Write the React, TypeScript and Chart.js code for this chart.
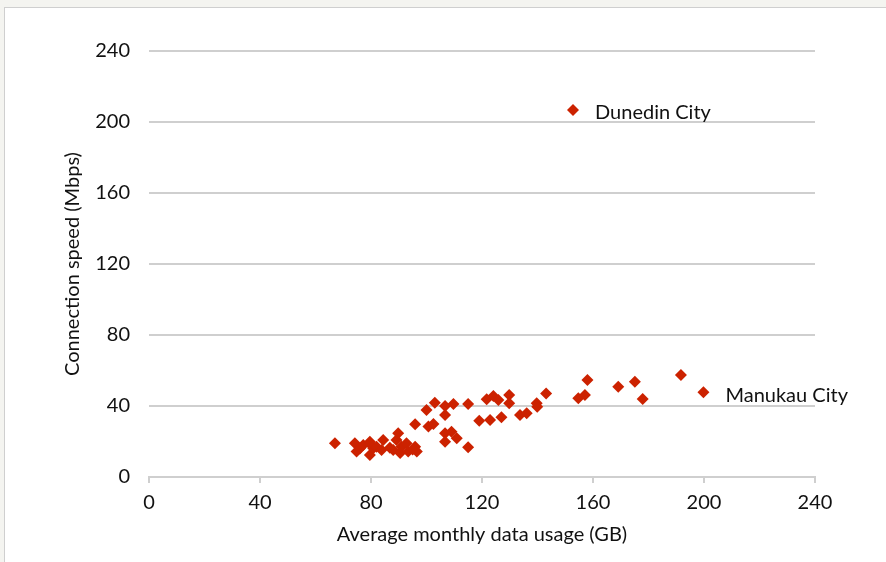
import React, { useEffect, useRef } from "react";
import { Chart, registerables } from "chart.js";

Chart.register(...registerables);

const usageGB = [
  67, 74.2, 74.8, 77.2, 76, 79.6, 79.6, 80.8, 80, 82, 84.4, 83.8, 86.8, 88, 89.2, 89.8, 90.5, 91, 92.8, 93.4, 95.9, 96.5, 95,
  95.9, 100, 103, 106.7, 109.7, 115, 106.7, 100.7, 102.5, 106.7, 109, 110.9, 106.7, 115, 119, 122.9, 127, 121.7, 124.1, 125.9,
  129.8, 129.8, 133.7, 136.1, 139.7, 139.9, 143.1, 154.7, 157.1, 158, 169.1, 175.1, 177.9, 191.7, 199.8, 152.8,
];
const speedMbps = [
  19, 19, 14.3, 18, 16, 19.9, 12.4, 16.2, 18, 17, 20.8, 15.2, 16.5, 15.2, 20.8, 24.6, 13.5, 17.1, 19, 14.3, 17.1, 14.3, 15.5,
  29.7, 37.7, 41.9, 40, 41.1, 41.1, 34.9, 28.4, 29.9, 24.6, 25.5, 21.8, 19.9, 16.7, 31.7, 32.1, 33.6, 43.8, 45.6, 43.4,
  46.2, 41.5, 34.9, 35.9, 41.5, 39.6, 47.1, 44.3, 46.2, 54.6, 50.9, 53.7, 43.9, 57.5, 47.7, 206.8,
];
const labeledCities = ["Dunedin City", "Manukau City"];
const labeledIndex = [58, 57];
const axisTicks = [0, 40, 80, 120, 160, 200, 240];

const FONT = "Lato";
const FS = 20;
const TEXT = "#111111";
const RED = "#cc2200";
const GRID = "#cfcfcf";

const pointLabelPlugin = {
  id: "pointLabels",
  afterDatasetsDraw(chart: any) {
    const meta = chart.getDatasetMeta(0);
    const ctx = chart.ctx;
    ctx.save();
    ctx.font = `${FS}px ${FONT}`;
    ctx.fillStyle = TEXT;
    ctx.textAlign = "left";
    ctx.textBaseline = "middle";
    labeledIndex.forEach((idx, k) => {
      const el = meta.data[idx];
      if (!el) return;
      ctx.fillText(labeledCities[k], el.x + 22, el.y + 3);
    });
    ctx.restore();
  },
};

export default function App() {
  const canvasRef = useRef<HTMLCanvasElement | null>(null);

  useEffect(() => {
    if (!canvasRef.current) return;
    const points = usageGB.map((x, i) => ({ x, y: speedMbps[i] }));
    const chart = new Chart(canvasRef.current, {
      type: "scatter",
      data: {
        datasets: [
          {
            data: points,
            backgroundColor: RED,
            borderColor: RED,
            pointStyle: "rectRot",
            pointRadius: 6,
            borderWidth: 0,
          },
        ],
      },
      options: {
        animation: false,
        responsive: false,
        maintainAspectRatio: false,
        layout: { padding: { left: 60, right: 71, top: 51, bottom: 12 } },
        plugins: { legend: { display: false }, tooltip: { enabled: false } },
        scales: {
          x: {
            type: "linear",
            min: 0,
            max: 240,
            afterBuildTicks: (s: any) => {
              s.ticks = axisTicks.map((v) => ({ value: v }));
            },
            afterFit: (s: any) => {
              s.height = 73;
            },
            grid: { display: true, drawOnChartArea: false, drawTicks: true, tickLength: 6, color: GRID, lineWidth: 2 },
            border: { display: true, color: GRID, width: 2 },
            ticks: { color: TEXT, font: { family: FONT, size: FS }, padding: 8 },
            title: {
              display: true,
              text: "Average monthly data usage (GB)",
              color: TEXT,
              font: { family: FONT, size: FS },
              padding: { top: 0, bottom: 3 },
            },
          },
          y: {
            type: "linear",
            min: 0,
            max: 240,
            afterBuildTicks: (s: any) => {
              s.ticks = axisTicks.map((v) => ({ value: v }));
            },
            afterFit: (s: any) => {
              s.width = 89;
            },
            grid: { display: true, drawTicks: false, color: GRID, lineWidth: 2 },
            border: { display: false },
            ticks: { color: TEXT, font: { family: FONT, size: FS }, padding: 19 },
            title: {
              display: true,
              text: "Connection speed (Mbps)",
              color: TEXT,
              font: { family: FONT, size: FS },
              padding: { top: 1, bottom: 0 },
            },
          },
        },
      },
      plugins: [pointLabelPlugin],
    });
    return () => chart.destroy();
  }, []);

  return (
    <div style={{ position: "fixed", left: 0, top: 0, width: 886, height: 562, background: "#f4f4f0", overflow: "hidden" }}>
      <div
        style={{
          position: "absolute",
          left: 4,
          top: 7,
          width: 940,
          height: 620,
          background: "#ffffff",
          border: "1px solid #cfcfcf",
        }}
      />
      <canvas ref={canvasRef} width={886} height={562} style={{ position: "absolute", left: 0, top: 0, width: 886, height: 562 }} />
    </div>
  );
}
